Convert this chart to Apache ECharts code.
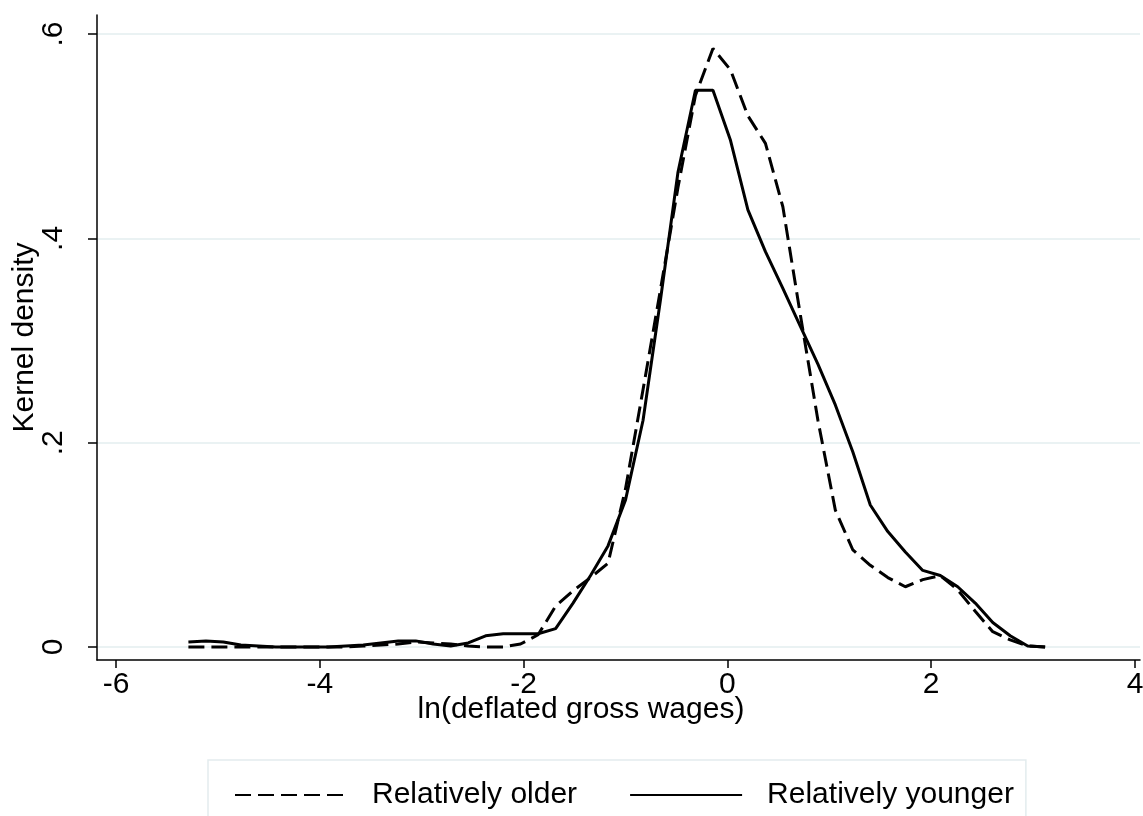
<!DOCTYPE html>
<html>
<head>
<meta charset="utf-8">
<title>Kernel density of ln wages</title>
<script src="https://cdn.jsdelivr.net/npm/echarts@6/dist/echarts.min.js"></script>
<style>
  html, body { margin: 0; padding: 0; background: #fff; }
  #chart { width: 1143px; height: 816px; }
</style>
</head>
<body>
<div id="chart"></div>
<script>
// evaluation grid of the kernel density (ln deflated gross wages)
const gridX = [
  -5.290, -5.118, -4.947, -4.775, -4.604, -4.432, -4.260, -4.089, -3.917, -3.746,
  -3.574, -3.402, -3.231, -3.059, -2.888, -2.716, -2.544, -2.373, -2.201, -2.030,
  -1.858, -1.686, -1.515, -1.343, -1.172, -1.000, -0.828, -0.657, -0.485, -0.314,
  -0.142, 0.030, 0.201, 0.373, 0.544, 0.716, 0.888, 1.059, 1.231, 1.402,
  1.574, 1.746, 1.917, 2.089, 2.260, 2.432, 2.604, 2.775, 2.947, 3.118
]

// density, relatively older (dashed)
const olderDensity = [
  0, 0, 0, 0, 0, 0, 0, 0, 0, 0,
  0.001, 0.002, 0.003, 0.005, 0.004, 0.003, 0.001, 0, 0, 0.003,
  0.012, 0.040, 0.055, 0.068, 0.082, 0.155, 0.252, 0.350, 0.450, 0.540,
  0.586, 0.565, 0.520, 0.493, 0.431, 0.325, 0.222, 0.134, 0.095, 0.080,
  0.068, 0.059, 0.066, 0.070, 0.056, 0.035, 0.015, 0.007, 0.001, 0
]

// density, relatively younger (solid)
const youngerDensity = [
  0.005, 0.006, 0.005, 0.002, 0.001, 0, 0, 0, 0, 0.001,
  0.002, 0.004, 0.006, 0.006, 0.003, 0.001, 0.004, 0.011, 0.013, 0.013,
  0.013, 0.018, 0.043, 0.070, 0.099, 0.144, 0.222, 0.340, 0.465, 0.545,
  0.545, 0.496, 0.428, 0.387, 0.351, 0.314, 0.277, 0.237, 0.191, 0.139,
  0.113, 0.093, 0.075, 0.070, 0.059, 0.043, 0.024, 0.011, 0.001, 0
]

const seriesNames = ['Relatively older', 'Relatively younger']
const xTicks = [-6, -4, -2, 0, 2, 4]
const yTicks = [0, 0.2, 0.4, 0.6]
const yTickLabels = ['0', '.2', '.4', '.6']

const FONT = '"Liberation Sans", Arial, sans-serif'
const FONT_SIZE = 30
const GRID_COLOR = '#EAF2F3'

function toPairs(ys) {
  return gridX.map((x, i) => [x, ys[i]])
}

const chart = echarts.init(document.getElementById('chart'), null, { renderer: 'canvas' })

const option = {
  backgroundColor: '#fff',
  animation: false,
  grid: {
    left: 97,
    right: 3,
    top: 15,
    bottom: 156,
    containLabel: false,
    outerBoundsMode: 'none',
  },
  legend: {
    data: seriesNames,
    left: 208,
    top: 760,
    padding: [20, 12, 30, 26],
    borderColor: '#E3ECEE',
    borderWidth: 1.5,
    itemWidth: 112,
    itemHeight: 14,
    itemGap: 52,
    itemStyle: { opacity: 0 },
    textStyle: {
      fontFamily: FONT,
      fontSize: FONT_SIZE,
      color: '#000',
      padding: [0, 0, 0, 20],
    },
  },
  xAxis: {
    type: 'value',
    min: -6.187,
    max: 4.049,
    name: 'ln(deflated gross wages)',
    nameLocation: 'middle',
    nameGap: 35,
    nameMoveOverlap: false,
    nameTextStyle: {
      fontFamily: FONT,
      fontSize: FONT_SIZE,
      color: '#000',
      padding: [0, 75, 0, 0],
    },
    axisLine: { onZero: false, lineStyle: { color: '#000', width: 1.5 } },
    axisTick: { customValues: xTicks, length: 8, lineStyle: { color: '#000', width: 1.5 } },
    axisLabel: {
      customValues: xTicks,
      fontFamily: FONT,
      fontSize: FONT_SIZE,
      color: '#000',
      margin: 10,
    },
    splitLine: { show: false },
  },
  yAxis: {
    type: 'value',
    min: -0.0127,
    max: 0.6187,
    name: 'Kernel density',
    nameLocation: 'middle',
    nameGap: 57,
    nameMoveOverlap: false,
    nameTextStyle: {
      fontFamily: FONT,
      fontSize: FONT_SIZE,
      color: '#000',
    },
    axisLine: { onZero: false, lineStyle: { color: '#000', width: 1.5 } },
    axisTick: { customValues: yTicks, length: 9, lineStyle: { color: '#000', width: 1.5 } },
    axisLabel: {
      customValues: yTicks,
      rotate: 90,
      fontFamily: FONT,
      fontSize: FONT_SIZE,
      color: '#000',
      margin: 28,
      formatter: (v) => yTickLabels[yTicks.findIndex(t => Math.abs(t - v) < 1e-6)] ?? '',
    },
    splitLine: {
      show: true,
      lineStyle: { color: GRID_COLOR, width: 2 },
    },
  },
  series: [
    {
      name: seriesNames[0],
      type: 'line',
      symbol: 'none',
      smooth: false,
      z: 3,
      lineStyle: { color: '#000', width: 3, type: [16, 7] },
      itemStyle: { color: '#000' },
      data: toPairs(olderDensity),
    },
    {
      name: seriesNames[1],
      type: 'line',
      symbol: 'none',
      smooth: false,
      z: 2,
      lineStyle: { color: '#000', width: 3, type: 'solid' },
      itemStyle: { color: '#000' },
      data: toPairs(youngerDensity),
    },
  ],
}

chart.setOption(option)
</script>
</body>
</html>
